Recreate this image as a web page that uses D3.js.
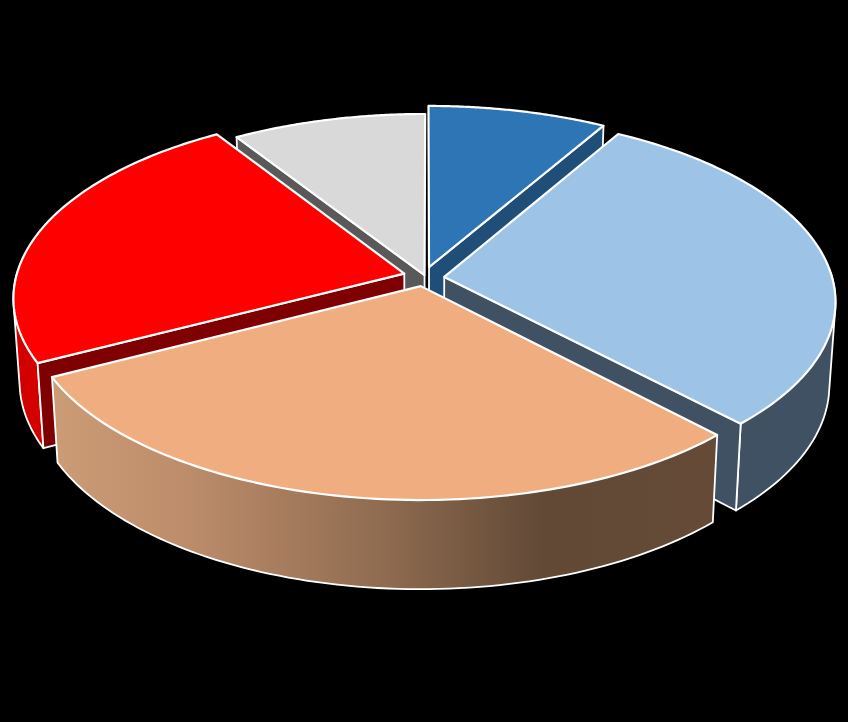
<!DOCTYPE html>
<html><head><meta charset="utf-8">
<style>html,body{margin:0;padding:0;background:#000}svg{display:block}</style>
<script src="https://d3js.org/d3.v7.min.js"></script></head>
<body><div id="c"></div>
<script>
const categories = ["A","B","C","D","E"];
const values = [8.4,29.5,29.5,23.5,9.1];
const topColors = ["#2e75b6","#9dc3e6","#f0ae80","#ff0000","#d9d9d9"];
const cutColors = ["#1f4e79","#3f5163","#3f5163","#7f0000","#595959"];
const wallColors = ["#1f4e79","#3f5163","url(#peachWall)","#d40000","#595959"];
const drawOrder = [4,0,3,1,2];
const nudgeX = [0,1,0,-1,6];
const nudgeY = [-2,0,-1,-2,6];

const W=848,H=722, cx=424, cy=278, Rx=388, Ry=184, k=0.128, explode=0.05, depth=85;
const svg=d3.select("#c").append("svg").attr("width",W).attr("height",H);
svg.append("rect").attr("width",W).attr("height",H).attr("fill","#000");
const g=svg.append("defs").append("linearGradient").attr("id","peachWall")
  .attr("gradientUnits","userSpaceOnUse").attr("x1",52).attr("x2",716).attr("y1",0).attr("y2",0);
[[0,"#cc9c76"],[0.2,"#bd8d6b"],[0.5,"#8f6b50"],[0.74,"#614936"],[1,"#654b37"]].forEach(s=>g.append("stop").attr("offset",s[0]).attr("stop-color",s[1]));

const sx=d3.scaleLinear().domain([-1,1]).range([cx-Rx,cx+Rx]);
const sy=d3.scaleLinear().domain([-1,1]).range([cy+Ry,cy-Ry]);
const arcs=d3.pie().sort(null).startAngle(0).endAngle(2*Math.PI)(values);

function proj(X,T){const w=1+k*T;return [sx(X/w),sy(T/w)];}
function lower(p){return [cx+(p[0]-cx)*0.985, p[1]+depth+(p[1]-362)*0.03];}
const line=d3.line();
const style=(sel,fill,sw)=>sel.attr("fill",fill).attr("stroke","#fff").attr("stroke-width",sw).attr("stroke-linejoin","round");

drawOrder.forEach(i=>{
  const a=arcs[i], m=(a.startAngle+a.endAngle)/2;
  const ox=explode*Math.sin(m), oy=explode*Math.cos(m);
  const P=(t,r)=>{const p=proj(ox+r*Math.sin(t),oy+r*Math.cos(t));return [p[0]+nudgeX[i],p[1]+nudgeY[i]];};
  const at=j=>a.startAngle+(a.endAngle-a.startAngle)*j/80;
  const rim=d3.range(0,81).map(j=>P(at(j),1));
  const apex=P(m,0);
  const s0=rim[0], s1=rim[rim.length-1];
  const node=svg.append("g").attr("class","slice").attr("data-cat",categories[i]);
  // outer wall: hull of the viewer-facing arc and its lower edge (the top face hides the inner side)
  const front=d3.range(0,81).map(at).filter(t=>Math.cos(t)<0.03).map(t=>P(t,1));
  if(front.length>1) style(node.append("path").attr("d",line(d3.polygonHull(front.concat(front.map(lower))))+"Z"),wallColors[i],1.8);
  // cut faces: only those whose normal faces the viewer
  if(Math.sin(a.startAngle)<-0.01) style(node.append("path").attr("d",line([apex,s0,lower(s0),lower(apex)])+"Z"),cutColors[i],1.8);
  if(Math.sin(a.endAngle)>0.01) style(node.append("path").attr("d",line([apex,s1,lower(s1),lower(apex)])+"Z"),cutColors[i],1.8);
  style(node.append("path").attr("d",line([apex].concat(rim))+"Z"),topColors[i],2.2);
});
</script></body></html>
